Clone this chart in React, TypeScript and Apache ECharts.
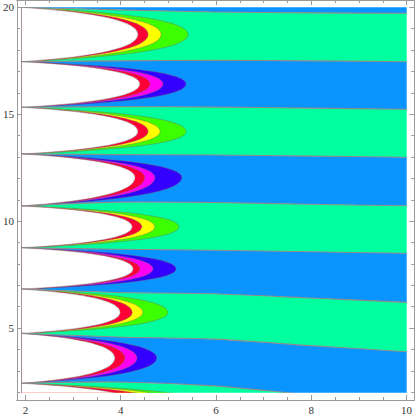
import React, { useEffect, useRef } from "react";
import * as echarts from "echarts";

// x positions at which the boundary (separatrix) lines are sampled
const lineXs = [2, 4, 6, 8, 10];
// y of each boundary line at lineXs (top to bottom)
const boundary1 = [20.0, 19.88, 19.78, 19.74, 19.72];
const boundary2 = [17.46, 17.5, 17.52, 17.5, 17.46];
const boundary3 = [15.33, 15.36, 15.34, 15.29, 15.24];
const boundary4 = [13.15, 13.12, 13.1, 13.05, 13.0];
const boundary5 = [10.72, 10.9, 10.88, 10.8, 10.73];
const boundary6 = [8.77, 8.7, 8.65, 8.58, 8.51];
const boundary7 = [6.84, 6.68, 6.62, 6.42, 6.22];
const boundary8 = [4.77, 4.6, 4.5, 4.2, 3.91];
const boundary9 = [2.44, 2.5, 2.32, 1.9, 1.6];
const boundaryYs = [boundary1, boundary2, boundary3, boundary4, boundary5, boundary6, boundary7, boundary8, boundary9];

// lobes between consecutive pinch points (top to bottom)
const lobeCenterY = [18.73, 16.42, 14.2, 12.05, 9.75, 7.78, 5.75, 3.62, 1.3];
const whiteTip = [4.42, 4.46, 4.42, 4.36, 4.3, 4.32, 4.05, 3.94, 4.58];
const redTip = [4.63, 4.67, 4.63, 4.56, 4.5, 4.46, 4.3, 4.15, 5.13];
const midTip = [4.9, 4.94, 4.88, 4.77, 4.77, 4.73, 4.52, 4.4, 5.56];
const outerTip = [5.46, 5.42, 5.42, 5.33, 5.27, 5.21, 5.04, 4.81, 6.1];
const hiddenPinchBelow = 0.2;

const xMajorTicks = [2, 4, 6, 8, 10];
const xMinorTicks = [2.5, 3, 3.5, 4.5, 5, 5.5, 6.5, 7, 7.5, 8.5, 9, 9.5];
const yMajorTicks = [5, 10, 15, 20];
const yMinorTicks = [2, 3, 4, 6, 7, 8, 9, 11, 12, 13, 14, 16, 17, 18, 19];

const AZURE = "#0A94FF";
const SPRING = "#00FF9E";
const BLUE = "#3300FF";
const MAGENTA = "#FF00F5";
const RED = "#FF0036";
const YELLOW = "#FFFF00";
const LIME = "#3CFF00";
const WHITE = "#FFFFFF";
const greenLayers = [LIME, YELLOW, RED, WHITE];
const blueLayers = [BLUE, MAGENTA, RED, WHITE];

const FRAME = "#9a9a9a";
const EDGE = "rgba(110,110,110,0.55)";
const FONT = "Liberation Serif";

const X0 = 1.8235, X1 = 10.162;
const Y0 = 1.636, Y1 = 20.341;

export default function App() {
  const ref = useRef<HTMLDivElement>(null);
  useEffect(() => {
    if (!ref.current) return;
    const chart = echarts.init(ref.current, null, { renderer: "svg" });

    const bandItems = Array.from({ length: boundaryYs.length + 1 }, (_, b) => [b, 0]);
    const lobeItems: number[][] = [];
    lobeCenterY.forEach((_, i) => [0, 1, 2, 3].forEach((j) => lobeItems.push([i, j])));
    const lineItems = boundaryYs.map((_, k) => [k, 0]);

    const tipArrays = [outerTip, midTip, redTip, whiteTip];
    const K = 0.72;

    const frameTick = (vals: number[], len: number) => ({
      show: true, inside: true, length: len, customValues: vals,
      lineStyle: { color: FRAME, width: 1 },
    });
    const labelStyle = (vals: number[], margin: number) => ({
      show: true, customValues: vals, color: "#333", fontSize: 11, fontFamily: FONT, margin,
    });
    const mkX = (pos: string, ticks: number[], len: number, labels: boolean) => ({
      gridIndex: 1, type: "value", min: X0, max: X1, position: pos,
      axisLine: { show: true, lineStyle: { color: FRAME, width: 1 } },
      axisTick: frameTick(ticks, len),
      axisLabel: labels ? labelStyle(xMajorTicks, 4) : { show: false },
      splitLine: { show: false },
    });
    const mkY = (pos: string, ticks: number[], len: number, labels: boolean) => ({
      gridIndex: 1, type: "value", min: Y0, max: Y1, position: pos,
      axisLine: { show: true, lineStyle: { color: FRAME, width: 1 } },
      axisTick: frameTick(ticks, len),
      axisLabel: labels ? labelStyle(yMajorTicks, 3) : { show: false },
      splitLine: { show: false },
    });

    const option: any = {
      animation: false,
      textStyle: { fontFamily: FONT },
      grid: [
        { left: 21.5, top: 7.3, width: 385.2, height: 385.4 },
        { left: 13, top: 0, width: 401.5, height: 400.5 },
      ],
      xAxis: [
        { gridIndex: 0, type: "value", min: 2, max: 10, show: false },
        mkX("bottom", xMajorTicks, 5, true),
        mkX("bottom", xMinorTicks, 3, false),
        mkX("top", xMajorTicks, 5, false),
        mkX("top", xMinorTicks, 3, false),
      ],
      yAxis: [
        { gridIndex: 0, type: "value", min: 2, max: 20, show: false },
        mkY("left", yMajorTicks, 5, true),
        mkY("left", yMinorTicks, 3, false),
        mkY("right", yMajorTicks, 5, false),
        mkY("right", yMinorTicks, 3, false),
      ],
      series: [
        {
          type: "custom", xAxisIndex: 0, yAxisIndex: 0, clip: true, silent: true,
          data: bandItems,
          renderItem: (params: any, api: any) => {
            const b = api.value(0);
            const top = b === 0 ? lineXs.map(() => 21) : boundaryYs[b - 1];
            const bot = b === boundaryYs.length ? lineXs.map(() => 1) : boundaryYs[b];
            const pts: number[][] = [];
            lineXs.forEach((x, k) => pts.push(api.coord([x, top[k]])));
            for (let k = lineXs.length - 1; k >= 0; k--) pts.push(api.coord([lineXs[k], bot[k]]));
            return {
              type: "polygon",
              shape: { points: pts },
              style: { fill: b % 2 === 0 ? AZURE : SPRING, stroke: null },
            };
          },
        },
        {
          type: "custom", xAxisIndex: 0, yAxisIndex: 0, clip: true, silent: true,
          data: lobeItems,
          renderItem: (params: any, api: any) => {
            const i = api.value(0);
            const j = api.value(1);
            const yTop = boundaryYs[i][0];
            const yBot = i + 1 < boundaryYs.length ? boundaryYs[i + 1][0] : hiddenPinchBelow;
            const tip = tipArrays[j][i];
            const P0 = api.coord([2, yTop]);
            const P2 = api.coord([2, yBot]);
            const T = api.coord([tip, lobeCenterY[i]]);
            const C1 = [T[0], T[1] + K * (P0[1] - T[1])];
            const C2 = [T[0], T[1] + K * (P2[1] - T[1])];
            const d = `M${P0[0]} ${P0[1]} Q${C1[0]} ${C1[1]} ${T[0]} ${T[1]} Q${C2[0]} ${C2[1]} ${P2[0]} ${P2[1]} Z`;
            const colors = i % 2 === 0 ? greenLayers : blueLayers;
            return {
              type: "path",
              shape: { pathData: d },
              style: { fill: colors[j], stroke: EDGE, lineWidth: 0.8 },
            };
          },
        },
        {
          type: "custom", xAxisIndex: 0, yAxisIndex: 0, clip: true, silent: true,
          data: lineItems,
          renderItem: (params: any, api: any) => {
            const k = api.value(0);
            const pts = lineXs.map((x, m) => api.coord([x, boundaryYs[k][m]]));
            return {
              type: "polyline",
              shape: { points: pts, smooth: 0.3 },
              style: { fill: "none", stroke: "#8c8c8c", lineWidth: 1.1 },
            };
          },
        },
      ],
    };
    chart.setOption(option);
    return () => chart.dispose();
  }, []);
  return (
    <div
      ref={ref}
      style={{ position: "absolute", left: 0, top: 0, width: 415, height: 415, background: "#fff" }}
    />
  );
}
